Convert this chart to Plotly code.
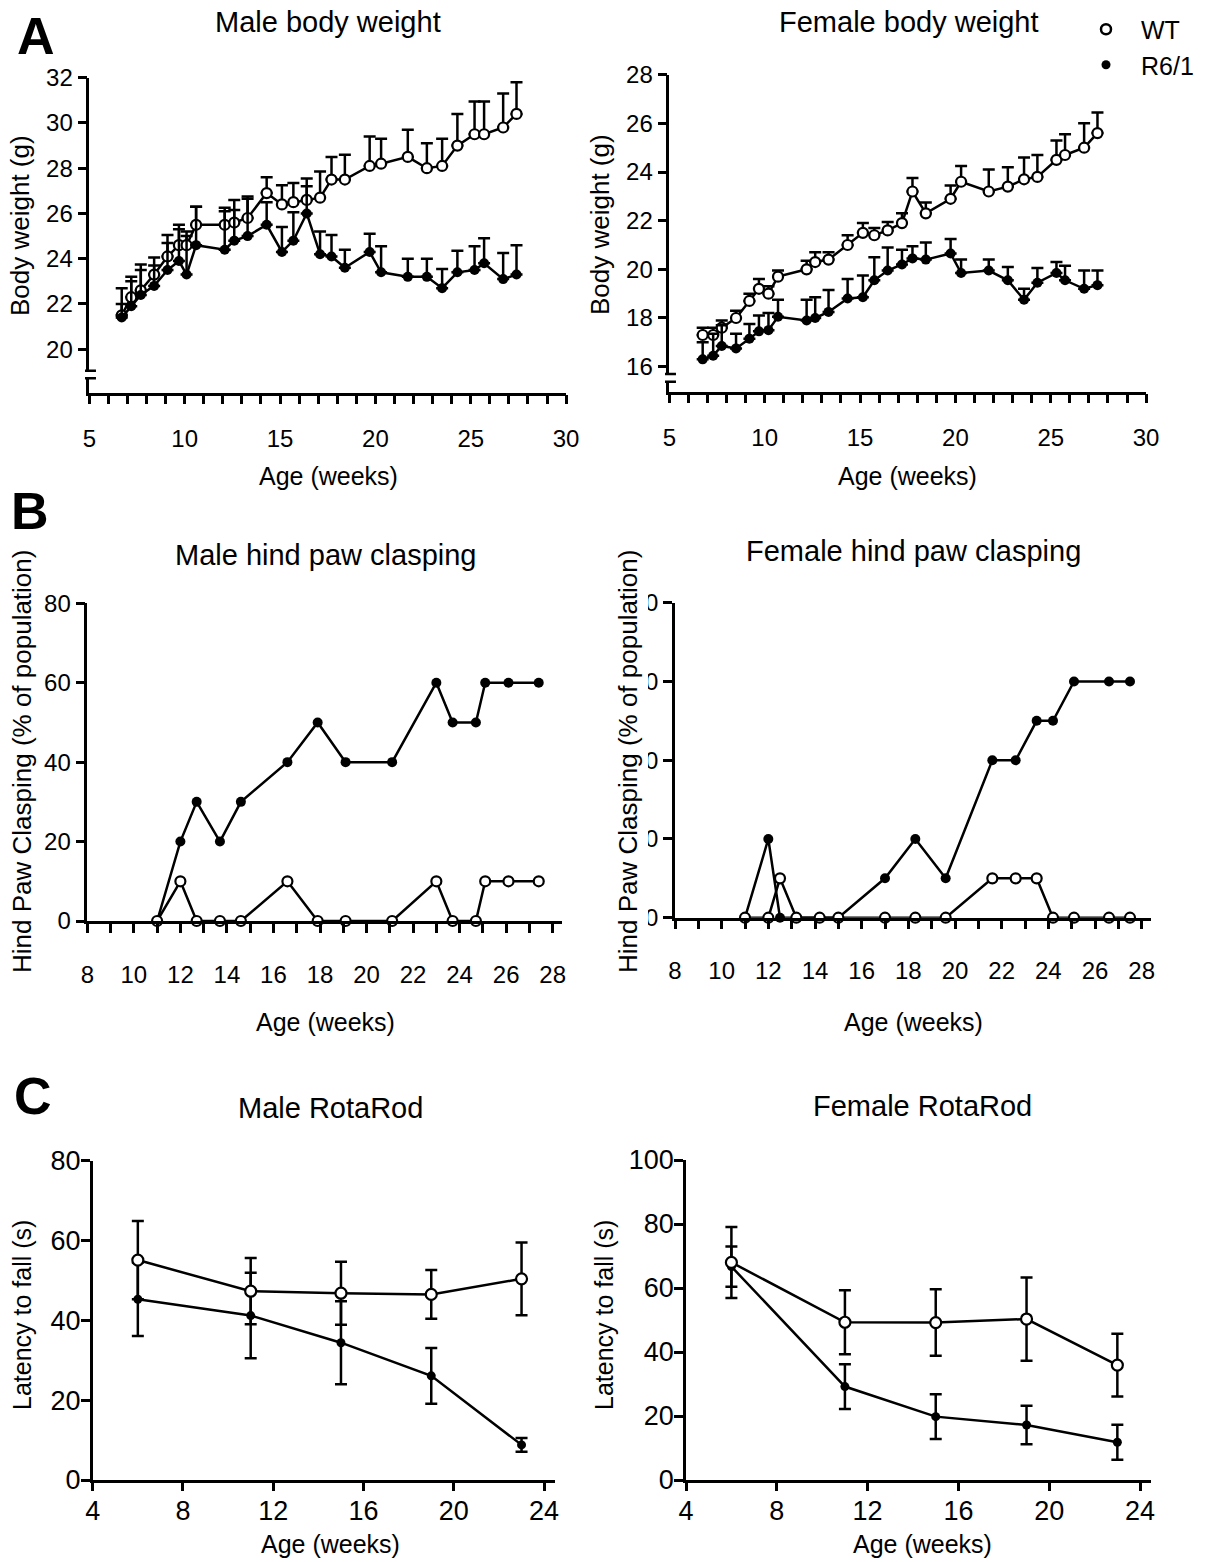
import plotly.graph_objects as go

# ---------------- data ----------------
weeks_bw_m = [6.7, 7.2, 7.7, 8.4, 9.1, 9.7, 10.1, 10.6, 12.1, 12.6, 13.3, 14.3, 15.1, 15.7,
              16.4, 17.1, 17.7, 18.4, 19.7, 20.3, 21.7, 22.7, 23.5, 24.3, 25.2, 25.7, 26.7, 27.4]
wt_bw_m = [21.5, 22.3, 22.6, 23.3, 24.1, 24.6, 24.6, 25.5, 25.5, 25.6, 25.8, 26.9, 26.4, 26.5,
           26.6, 26.7, 27.5, 27.5, 28.1, 28.2, 28.5, 28.0, 28.1, 29.0, 29.5, 29.5, 29.8, 30.4]
wt_bw_m_err = [1.2, 0.9, 1.15, 0.75, 0.95, 0.9, 0.6, 0.8, 0.75, 1.0, 0.95, 0.7, 0.85, 0.85,
               0.95, 1.15, 1.0, 1.1, 1.3, 1.1, 1.2, 1.1, 1.2, 1.4, 1.45, 1.45, 1.5, 1.4]
r6_bw_m = [21.4, 21.9, 22.4, 22.8, 23.5, 23.9, 23.3, 24.6, 24.4, 24.8, 25.0, 25.5, 24.3, 24.8,
           26.0, 24.2, 24.1, 23.6, 24.3, 23.4, 23.2, 23.2, 22.7, 23.4, 23.5, 23.8, 23.1, 23.3]
r6_bw_m_err = [0.6, 1.1, 1.1, 0.9, 1.2, 1.4, 1.7, 1.7, 1.7, 1.35, 1.65, 1.0, 1.1, 1.25,
               1.2, 1.0, 0.95, 0.8, 0.8, 1.15, 0.8, 0.8, 0.85, 0.95, 1.05, 1.1, 1.15, 1.3]

weeks_bw_f = [6.75, 7.3, 7.75, 8.5, 9.2, 9.7, 10.2, 10.7, 12.2, 12.65, 13.35, 14.35, 15.15, 15.75,
              16.45, 17.2, 17.75, 18.45, 19.75, 20.3, 21.75, 22.75, 23.6, 24.3, 25.3, 25.75, 26.75, 27.45]
wt_bw_f = [17.3, 17.3, 17.6, 18.0, 18.7, 19.2, 19.0, 19.7, 20.0, 20.3, 20.4, 21.0, 21.5, 21.4,
           21.6, 21.9, 23.2, 22.3, 22.9, 23.6, 23.2, 23.4, 23.7, 23.8, 24.5, 24.7, 25.0, 25.6]
wt_bw_f_err = [0.3, 0.3, 0.3, 0.3, 0.3, 0.4, 0.3, 0.25, 0.35, 0.4, 0.3, 0.4, 0.4, 0.3,
               0.35, 0.4, 0.55, 0.45, 0.55, 0.65, 0.9, 0.8, 0.9, 0.9, 0.8, 0.85, 1.0, 0.85]
r6_bw_f = [16.3, 16.45, 16.85, 16.75, 17.15, 17.45, 17.5, 18.05, 17.9, 18.0, 18.25, 18.8, 18.85, 19.55,
           19.95, 20.2, 20.45, 20.4, 20.65, 19.85, 19.95, 19.55, 18.75, 19.45, 19.85, 19.55, 19.2, 19.35]
r6_bw_f_err = [0.7, 0.9, 0.85, 0.6, 0.6, 0.65, 0.7, 0.7, 0.85, 0.85, 0.9, 0.8, 0.9, 0.95,
               0.95, 0.6, 0.5, 0.7, 0.6, 0.55, 0.45, 0.55, 0.45, 0.6, 0.45, 0.6, 0.75, 0.6]

weeks_cl_m = [11.0, 12.0, 12.7, 13.7, 14.6, 16.6, 17.9, 19.1, 21.1, 23.0, 23.7, 24.7, 25.1, 26.1, 27.4]
r6_cl_m = [0, 20, 30, 20, 30, 40, 50, 40, 40, 60, 50, 50, 60, 60, 60]
wt_cl_m = [0, 10, 0, 0, 0, 10, 0, 0, 0, 10, 0, 0, 10, 10, 10]

weeks_cl_f = [11.0, 12.0, 12.5, 13.2, 14.2, 15.0, 17.0, 18.3, 19.6, 21.6, 22.6, 23.5, 24.2, 25.1, 26.6, 27.5]
r6_cl_f = [0, 20, 0, 0, 0, 0, 10, 20, 10, 40, 40, 50, 50, 60, 60, 60]
wt_cl_f = [0, 0, 10, 0, 0, 0, 0, 0, 0, 10, 10, 10, 0, 0, 0, 0]

weeks_rr = [6, 11, 15, 19, 23]
wt_rr_m = [55.1, 47.3, 46.8, 46.5, 50.4]
wt_rr_m_err = [9.8, 8.3, 7.9, 6.1, 9.1]
r6_rr_m = [45.3, 41.2, 34.4, 26.1, 8.8]
r6_rr_m_err = [9.2, 10.7, 10.4, 7.0, 1.7]
wt_rr_f = [68.0, 49.3, 49.2, 50.3, 35.9]
wt_rr_f_err = [11.1, 10.0, 10.4, 13.0, 9.8]
r6_rr_f = [66.7, 29.2, 19.8, 17.2, 11.8]
r6_rr_f_err = [6.3, 7.0, 7.0, 6.0, 5.5]

# ---------------- helpers ----------------
W, H = 1207, 1562
FONT = "Liberation Sans, Arial, sans-serif"


def px(x):
    return x / W


def py(y):
    return 1 - y / H


fig = go.Figure()


def add(xs, ys, ax, filled, size, err=None, upper_only=False):
    kw = {}
    if err is not None:
        kw["error_y"] = dict(
            type="data", array=err,
            arrayminus=[0] * len(err) if upper_only else err,
            symmetric=not upper_only,
            color="black", thickness=2.5, width=6,
        )
    fig.add_trace(go.Scatter(
        x=xs, y=ys, mode="lines+markers", xaxis="x" + ax, yaxis="y" + ax,
        line=dict(color="black", width=2.5),
        marker=dict(symbol="circle", size=size,
                    color="black" if filled else "white",
                    line=dict(color="black", width=0 if filled else 2.2)),
        showlegend=False, cliponaxis=False, hoverinfo="x+y", **kw))


# Body weight (upper error bars only)
add(weeks_bw_m, wt_bw_m, "", False, 10, wt_bw_m_err, True)
add(weeks_bw_m, r6_bw_m, "", True, 10, r6_bw_m_err, True)
add(weeks_bw_f, wt_bw_f, "2", False, 10, wt_bw_f_err, True)
add(weeks_bw_f, r6_bw_f, "2", True, 10, r6_bw_f_err, True)
# Clasping
add(weeks_cl_m, r6_cl_m, "3", True, 10)
add(weeks_cl_m, wt_cl_m, "3", False, 10)
add(weeks_cl_f, r6_cl_f, "4", True, 10)
add(weeks_cl_f, wt_cl_f, "4", False, 10)
# RotaRod
add(weeks_rr, r6_rr_m, "5", True, 9, r6_rr_m_err)
add(weeks_rr, wt_rr_m, "5", False, 11, wt_rr_m_err)
add(weeks_rr, r6_rr_f, "6", True, 9, r6_rr_f_err)
add(weeks_rr, wt_rr_f, "6", False, 11, wt_rr_f_err)

# legend entries
fig.add_trace(go.Scatter(x=[None], y=[None], mode="markers", name="WT",
                         marker=dict(symbol="circle", size=10, color="white",
                                     line=dict(color="black", width=2.5))))
fig.add_trace(go.Scatter(x=[None], y=[None], mode="markers", name="R6/1",
                         marker=dict(symbol="circle", size=9, color="black")))

axis_common = dict(showline=True, linecolor="black", linewidth=2.5, ticks="outside",
                   ticklen=9, tickwidth=2.5, tickcolor="black", showgrid=False,
                   zeroline=False, tickfont=dict(size=24, color="black", family=FONT),
                   fixedrange=True, automargin=False)
minor1 = dict(dtick=1, ticks="outside", ticklen=9, tickwidth=2.5, tickcolor="black",
              showgrid=False)
rr_font = dict(size=27, color="black", family=FONT)

layout = dict(
    width=W, height=H, margin=dict(l=0, r=0, t=0, b=0, pad=0, autoexpand=False),
    paper_bgcolor="white", plot_bgcolor="white",
    font=dict(family=FONT, color="black"),
    showlegend=True,
    legend=dict(x=px(1071), y=py(6.5), xanchor="left", yanchor="top",
                font=dict(size=25, color="black"), bgcolor="rgba(0,0,0,0)",
                itemwidth=60, tracegroupgap=0),
)

# A panels
layout["xaxis"] = dict(axis_common, domain=[px(89.3), px(566.1)], range=[5, 30],
                       tick0=5, dtick=5, minor=minor1, anchor="y", ticklabelstandoff=14)
layout["yaxis"] = dict(axis_common, domain=[py(392.7), py(77.7)], range=[18.08, 32],
                       tick0=20, dtick=2, anchor="x")
layout["xaxis2"] = dict(axis_common, domain=[px(669.3), px(1146.1)], range=[5, 30],
                        tick0=5, dtick=5, minor=minor1, anchor="y2", ticklabelstandoff=14)
layout["yaxis2"] = dict(axis_common, domain=[py(391.7), py(74.7)], range=[14.97, 28],
                        tick0=16, dtick=2, anchor="x2")
# B panels
layout["xaxis3"] = dict(axis_common, domain=[px(87.3), px(562.0)], range=[8, 28.4],
                        tick0=8, dtick=2, minor=minor1, anchor="y3", ticklabelstandoff=21)
layout["yaxis3"] = dict(axis_common, domain=[py(921.0), py(603.3)], range=[0, 80],
                        tick0=0, dtick=20, anchor="x3")
layout["xaxis4"] = dict(axis_common, domain=[px(675.0), px(1151.0)], range=[8, 28.4],
                        tick0=8, dtick=2, minor=minor1, anchor="y4", ticklabelstandoff=21)
layout["yaxis4"] = dict(axis_common, domain=[py(917.7), py(602.7)], range=[0, 80],
                        tick0=0, dtick=20, anchor="x4")
# C panels
layout["xaxis5"] = dict(axis_common, domain=[px(92.7), px(555.4)], range=[4, 24.5],
                        tick0=4, dtick=4, anchor="y5", ticklen=8, tickfont=rr_font,
                        ticklabelstandoff=-3)
layout["yaxis5"] = dict(axis_common, domain=[py(1480.0), py(1160.7)], range=[0, 80],
                        tick0=0, dtick=20, anchor="x5", tickfont=rr_font,
                        ticklabelstandoff=-5)
layout["xaxis6"] = dict(axis_common, domain=[px(686.0), px(1151.4)], range=[4, 24.5],
                        tick0=4, dtick=4, anchor="y6", ticklen=8, tickfont=rr_font,
                        ticklabelstandoff=-3)
layout["yaxis6"] = dict(axis_common, domain=[py(1480.0), py(1160.0)], range=[0, 100],
                        tick0=0, dtick=20, anchor="x6", tickfont=rr_font,
                        ticklabelstandoff=-5)

fig.update_layout(**layout)

# ---------------- annotations ----------------
ann = []


def text(t, x, y, size, bold=False, angle=0):
    ann.append(dict(text=("<b>%s</b>" % t) if bold else t, x=px(x), y=py(y),
                    xref="paper", yref="paper", showarrow=False,
                    xanchor="center", yanchor="middle", textangle=angle,
                    font=dict(size=size, color="black", family=FONT)))


text("A", 36, 36, 52, bold=True)
text("B", 30, 511, 52, bold=True)
text("C", 33, 1096, 52, bold=True)

text("Male body weight", 328, 22, 29)
text("Female body weight", 909, 22, 29)
text("Male hind paw clasping", 325, 555, 29)
text("Female hind paw clasping", 913, 551, 29)
text("Male RotaRod", 330, 1108, 29)
text("Female RotaRod", 923, 1106, 29)

text("Age (weeks)", 328, 476, 25)
text("Age (weeks)", 908, 476, 25)
text("Age (weeks)", 325, 1022, 25)
text("Age (weeks)", 913, 1022, 25)
text("Age (weeks)", 330, 1544, 25)
text("Age (weeks)", 923, 1544, 25)

text("Body weight (g)", 20, 226, 26, angle=-90)
text("Body weight (g)", 600, 225, 26, angle=-90)
text("Hind Paw Clasping (% of population)", 22, 762, 26, angle=-90)
text("Hind Paw Clasping (% of population)", 628, 762, 26, angle=-90)
text("Latency to fall (s)", 22, 1315, 25, angle=-90)
text("Latency to fall (s)", 604, 1315, 25, angle=-90)

fig.update_layout(annotations=ann)

# ---------------- axis breaks & label cover ----------------
shapes = []


def axis_break(xd, yd, y1, y2):
    shapes.append(dict(type="rect", xref=xd, yref=yd, x0=-0.008, x1=0.012, y0=y2, y1=y1,
                       fillcolor="white", line=dict(width=0), layer="above"))
    for yy in (y1, y2):
        shapes.append(dict(type="line", xref=xd, yref=yd, x0=-0.009, x1=0.014, y0=yy, y1=yy,
                           line=dict(color="black", width=2.5), layer="above"))


axis_break("x domain", "y", 19.05, 18.72)
axis_break("x2 domain", "y2", 15.70, 15.38)

# the female clasping tick labels are partly hidden in the original figure
shapes.append(dict(type="rect", xref="paper", yref="paper", x0=px(630), x1=px(648),
                   y0=py(930), y1=py(590), fillcolor="white", line=dict(width=0),
                   layer="above"))

fig.update_layout(shapes=shapes)

fig.write_html("out.html")
